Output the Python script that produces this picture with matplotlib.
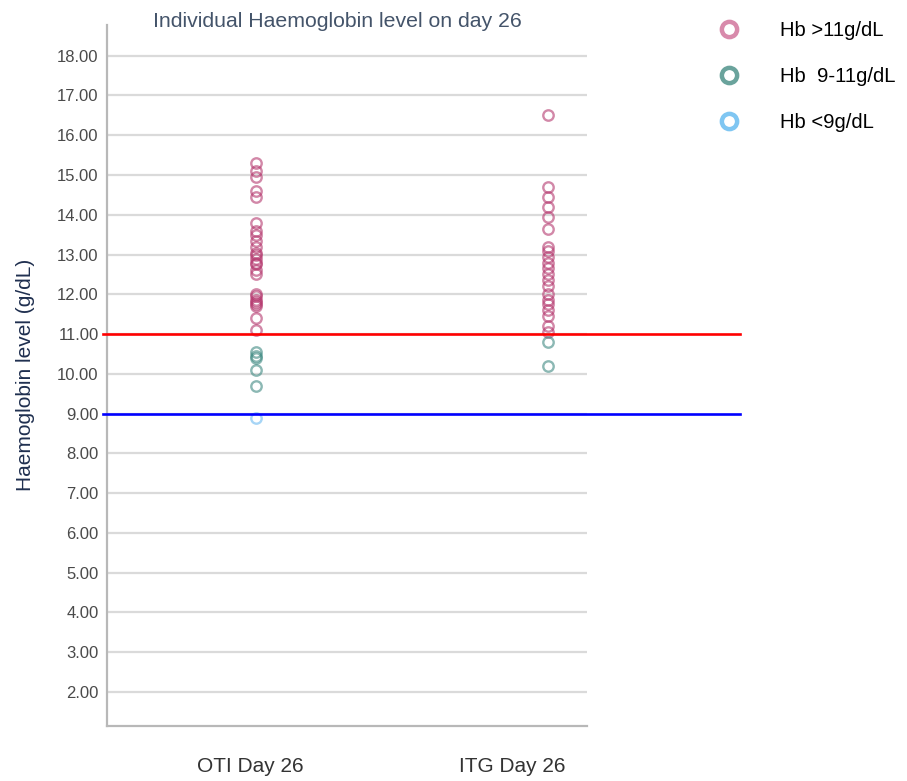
import matplotlib.pyplot as plt
import matplotlib.transforms as mtransforms
from matplotlib.lines import Line2D

plt.rcParams['font.family'] = ['Liberation Sans', 'DejaVu Sans']

groups = ["OTI Day 26", "ITG Day 26"]

# Hb values, split by band
oti_high = [15.3, 15.1, 14.95, 14.6, 14.45, 13.8, 13.6, 13.5, 13.35, 13.2, 13.05,
            13.0, 12.9, 12.8, 12.75, 12.6, 12.5, 12.0, 11.95, 11.85, 11.8, 11.75,
            11.7, 11.4, 11.1]
oti_mid = [10.55, 10.45, 10.4, 10.1, 9.7]
oti_low = [8.9]

itg_high = [16.5, 14.7, 14.45, 14.2, 13.95, 13.65, 13.2, 13.1, 12.95, 12.8, 12.65,
            12.5, 12.35, 12.2, 12.0, 11.85, 11.75, 11.6, 11.45, 11.2, 11.05]
itg_mid = [10.8, 10.2]
itg_low = []

thresholds = [11, 9]
threshold_colors = ["#ff0000", "#0000ff"]
yticks = list(range(2, 19))

band_labels = ["Hb >11g/dL", "Hb  9-11g/dL", "Hb <9g/dL"]
band_colors = ["#b5396f", "#3f8a82", "#6cbaf0"]
legend_colors = ["#d88aab", "#6aa39c", "#7fc6f2"]

fig = plt.figure(figsize=(9.07, 7.81), dpi=100)
ax = fig.add_axes([0.118, 0.0704, 0.529, 0.898])

data = [(oti_high, oti_mid, oti_low), (itg_high, itg_mid, itg_low)]
for i, bands in enumerate(data):
    for vals, col in zip(bands, band_colors):
        if vals:
            ax.plot([i] * len(vals), vals, linestyle="none", marker="o",
                    markersize=7.5, markerfacecolor="none", markeredgecolor=col,
                    markeredgewidth=1.7, alpha=0.6)

ax.set_xlim(-0.51, 1.134)
ax.set_ylim(1.145, 18.78)
ax.set_yticks(yticks)
ax.set_yticklabels([f"{t:.2f}" for t in yticks], fontsize=12, color="#4a4a4a")
ax.set_xticks([])
ax.tick_params(axis="y", length=0, pad=6)
ax.yaxis.grid(True, color="#dadada", linewidth=1.6)
ax.set_axisbelow(True)
for s in ["top", "right"]:
    ax.spines[s].set_visible(False)
for s in ["left", "bottom"]:
    ax.spines[s].set_color("#b8b8b8")
    ax.spines[s].set_linewidth(1.6)

ax.set_ylabel("Haemoglobin level (g/dL)", fontsize=15, color="#1f2f4f", labelpad=16)
ax.set_title("Individual Haemoglobin level on day 26", fontsize=15.3,
             color="#44546a", x=0.48, y=1.0, pad=-2)

# group labels under the axis
lab_tr = mtransforms.blended_transform_factory(ax.transData, ax.transAxes)
ax.text(-0.02, -0.058, groups[0], transform=lab_tr, ha="center", va="center",
        fontsize=15, color="#333333")
ax.text(0.88, -0.058, groups[1], transform=lab_tr, ha="center", va="center",
        fontsize=15, color="#333333")

# threshold lines start at the y axis and run past the plot area
line_tr = mtransforms.blended_transform_factory(fig.transFigure, ax.transData)
for t, c in zip(thresholds, threshold_colors):
    ax.plot([0.1136, 0.816], [t, t], color=c, linewidth=1.9, transform=line_tr,
            clip_on=False, zorder=5)

handles = [Line2D([], [], linestyle="none", marker="o", markersize=11,
                  markerfacecolor="none", markeredgecolor=c, markeredgewidth=3.2)
           for c in legend_colors]
fig.legend(handles, band_labels, loc="upper left", bbox_to_anchor=(0.77, 0.996),
           frameon=False, fontsize=14.6, labelspacing=1.32, handlelength=1.2,
           handletextpad=1.9)

fig.savefig("out.png", dpi=100)
